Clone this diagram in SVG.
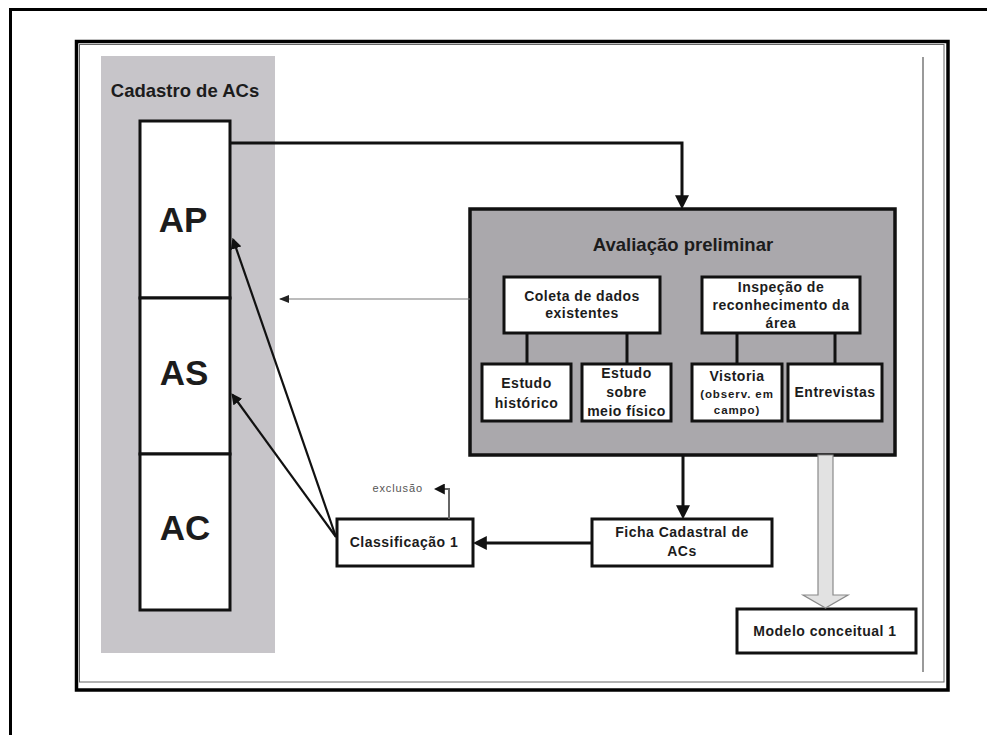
<svg xmlns="http://www.w3.org/2000/svg" width="987" height="735" viewBox="0 0 987 735">
<style>
.box{fill:#fff;stroke:#111;stroke-width:3}
.t{font-family:"Liberation Sans",Arial,sans-serif;font-weight:bold;fill:#1c1c1c;text-anchor:middle}
.s{font-size:14px;letter-spacing:0.5px}
.c{fill:none;stroke:#111;stroke-width:3}
.c2{fill:none;stroke:#111;stroke-width:2.2}
</style>
<defs>
<marker id="ah" viewBox="0 0 10 10" refX="7" refY="5" markerWidth="14" markerHeight="14" markerUnits="userSpaceOnUse" orient="auto"><path d="M0,0 L10,5 L0,10 z" fill="#111"/></marker>
<marker id="ahs" viewBox="0 0 10 10" refX="8" refY="5" markerWidth="11" markerHeight="11" markerUnits="userSpaceOnUse" orient="auto"><path d="M0,0 L10,5 L0,10 z" fill="#111"/></marker>
<marker id="aht" viewBox="0 0 10 10" refX="9" refY="5" markerWidth="10" markerHeight="10" markerUnits="userSpaceOnUse" orient="auto"><path d="M0,1 L10,5 L0,9 z" fill="#222"/></marker>
</defs>
<rect width="987" height="735" fill="#fff"/>
<g id="frame">
<path d="M10.5,735 V9.5 H987" fill="none" stroke="#000" stroke-width="3"/>
<rect x="76.5" y="41.5" width="871.5" height="648.5" fill="none" stroke="#000" stroke-width="3.5"/>
<rect x="79.5" y="44.5" width="864.5" height="637.5" fill="none" stroke="#666" stroke-width="1"/>
<line x1="923" y1="57" x2="923" y2="672" stroke="#9a9a9a" stroke-width="2"/>
</g>
<g id="cadastro">
<rect x="101" y="56" width="174" height="597" fill="#c7c5c9"/>
<text class="t" x="185" y="97" font-size="18.5">Cadastro de ACs</text>
</g>
<g id="ap">
<rect class="box" x="140" y="121" width="90" height="177"/>
<text class="t" x="183" y="232" font-size="35">AP</text>
</g>
<g id="as">
<rect class="box" x="140" y="298" width="90" height="156"/>
<text class="t" x="184" y="385" font-size="35">AS</text>
</g>
<g id="ac">
<rect class="box" x="140" y="454" width="90" height="156"/>
<text class="t" x="185" y="540" font-size="35">AC</text>
</g>
<g id="avaliacao">
<rect x="470" y="209" width="425" height="246" fill="#aaa8ac" stroke="#111" stroke-width="3.5"/>
<text class="t" x="683" y="251" font-size="18.5">Avaliação preliminar</text>
</g>
<g id="coleta">
<rect class="box" x="504" y="277" width="156" height="56"/>
<text class="t s" x="582" y="301">Coleta de dados</text>
<text class="t s" x="582" y="318">existentes</text>
</g>
<g id="inspecao">
<rect class="box" x="702" y="277" width="158" height="56"/>
<text class="t s" x="781" y="292">Inspeção de</text>
<text class="t s" x="781" y="310">reconhecimento da</text>
<text class="t s" x="781" y="328">área</text>
</g>
<g id="estudo-historico">
<rect class="box" x="482" y="364" width="89" height="57"/>
<text class="t s" x="526.5" y="388">Estudo</text>
<text class="t s" x="526.5" y="408">histórico</text>
</g>
<g id="estudo-meio">
<rect class="box" x="582" y="364" width="89" height="57"/>
<text class="t s" x="626.5" y="378">Estudo</text>
<text class="t s" x="626.5" y="397">sobre</text>
<text class="t s" x="626.5" y="416">meio físico</text>
</g>
<g id="vistoria">
<rect class="box" x="692" y="364" width="90" height="57"/>
<text class="t s" x="737" y="381">Vistoria</text>
<text class="t" x="737" y="398" font-size="11.5" letter-spacing="0.9">(observ. em</text>
<text class="t" x="737" y="414" font-size="11.5" letter-spacing="0.9">campo)</text>
</g>
<g id="entrevistas">
<rect class="box" x="788" y="364" width="94" height="57"/>
<text class="t s" x="835" y="397">Entrevistas</text>
</g>
<g id="ficha">
<rect class="box" x="592" y="519" width="180" height="47"/>
<text class="t s" x="682" y="537">Ficha Cadastral de</text>
<text class="t s" x="682" y="556">ACs</text>
</g>
<g id="classificacao">
<rect class="box" x="337" y="519" width="136" height="47"/>
<text class="t s" x="404" y="547">Classificação 1</text>
</g>
<g id="modelo">
<rect class="box" x="737" y="609" width="179" height="44"/>
<text class="t s" x="825" y="636">Modelo conceitual 1</text>
</g>
<g id="exclusao-label">
<text x="423" y="492" font-family="Liberation Sans,Arial,sans-serif" font-size="11" letter-spacing="0.9" fill="#555" text-anchor="end">exclusão</text>
</g>
<g id="connectors">
<path class="c" d="M230,143 H682 V205" marker-end="url(#ah)"/>
<path class="c" d="M527,333 V364 M627,333 V364 M737,333 V364 M835,333 V364"/>
<path d="M470,299 H280" fill="none" stroke="#7a7a7a" stroke-width="1.2" marker-end="url(#aht)"/>
<path class="c" d="M683,455 V515" marker-end="url(#ah)"/>
<path class="c" d="M592,543 H477" marker-end="url(#ah)"/>
<path d="M449,519 V489 H436" fill="none" stroke="#666" stroke-width="2" marker-end="url(#ahs)"/>
<path class="c2" d="M336,537 L233.2,239.8" marker-end="url(#ahs)"/>
<path class="c2" d="M336,537 L232.7,395" marker-end="url(#ahs)"/>
<path d="M818,455 V595 H803 L825.5,608 L848,595 H833 V455 Z" fill="#e2e2e2" stroke="#8a8a8a" stroke-width="1.2"/>
</g>
</svg>
